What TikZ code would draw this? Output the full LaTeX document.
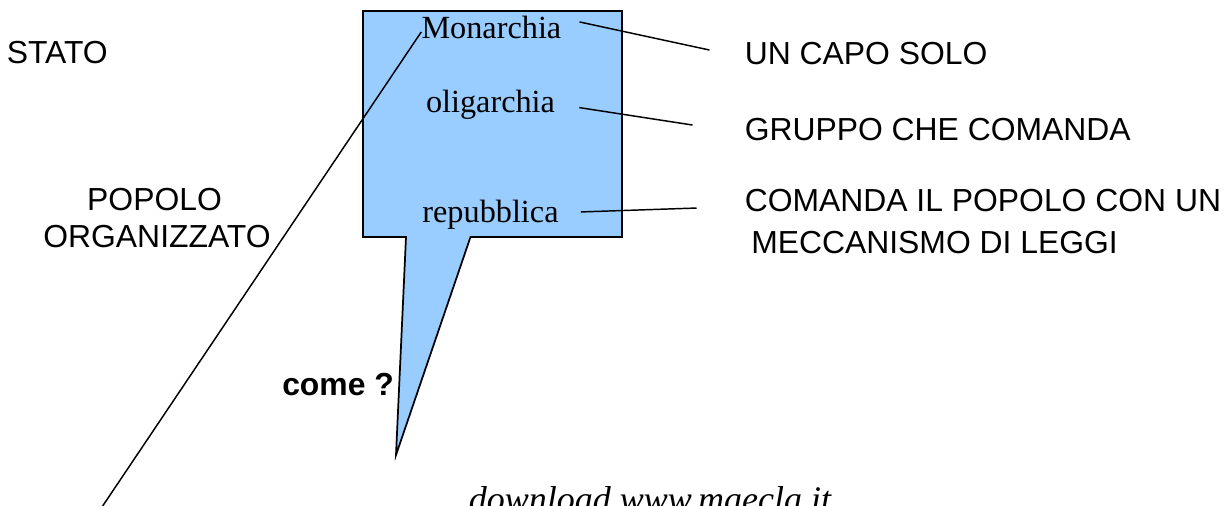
\documentclass[tikz,border=0pt]{standalone}
\usepackage{fontspec}
\setmainfont{Liberation Serif}
\setsansfont{Liberation Sans}
\usetikzlibrary{calc}
\definecolor{fumetto}{HTML}{99CCFF}

\begin{document}
\begin{tikzpicture}[x=0.75pt, y=-0.75pt]
			\tikzstyle{scritta}=[
			inner sep=0pt,
			anchor=base west,
			font=\sffamily\fontsize{23.9}{28}\selectfont
			]
			\tikzstyle{voce}=[
			inner sep=0pt,
			anchor=base,
			font=\rmfamily\fontsize{24.2}{29}\selectfont
			]
			\tikzstyle{filo}=[draw, line width=1.1pt]
			\useasboundingbox (0,0) rectangle (1226,506);
			% fumetto
			\draw[fill=fumetto, line width=1.3pt, line join=miter]
				(363,11) -- (622,11) -- (622,237) -- (470.5,237)
				-- (396,455) -- (406,237) -- (363,237) -- cycle;
			\node[voce] (MON) at (491.4,39) {Monarchia};
			\node[voce] (OLI) at (490.5,112.3) {oligarchia};
			\node[voce] (REP) at (490.5,222.7) {repubblica};
			\node[scritta] (STATO) at (6.5,63.3) {STATO};
			\node[scritta, anchor=base] (POP) at (154.5,210.7) {POPOLO};
			\node[scritta, anchor=base] (ORG) at (157,247.7) {ORGANIZZATO};
			\node[scritta] (CAPO) at (744.5,65) {UN CAPO SOLO};
			\node[scritta] (GRUPPO) at (744.5,141) {GRUPPO CHE COMANDA};
			\node[scritta] (POPCOM) at (744.5,211.5) {COMANDA IL POPOLO CON UN};
			\node[scritta] (LEGGI) at (751,253) {MECCANISMO DI LEGGI};
			\node[scritta, font=\sffamily\bfseries\fontsize{23.9}{28}\selectfont] (COME) at (282,395) {come ?};
			\node[inner sep=0pt, anchor=base, font=\rmfamily\itshape\fontsize{27}{32}\selectfont] (DOWN) at (650,511) {download www.maecla.it};
			\coordinate (FONDO) at (102,507);
			%
			\path[filo] ($(MON.east)+(18,-6)$) -- ($(CAPO.west)+(-35,-4)$);
			\path[filo] ($(OLI.east)+(24,3)$) -- ($(GRUPPO.west)+(-52,-5)$);
			\path[filo] ($(REP.east)+(22,-3)$) -- ($(POPCOM.west)+(-48,7.5)$);
			\path[filo] ($(MON.west)+(0,4)$) -- (FONDO);
		\end{tikzpicture}
\end{document}
